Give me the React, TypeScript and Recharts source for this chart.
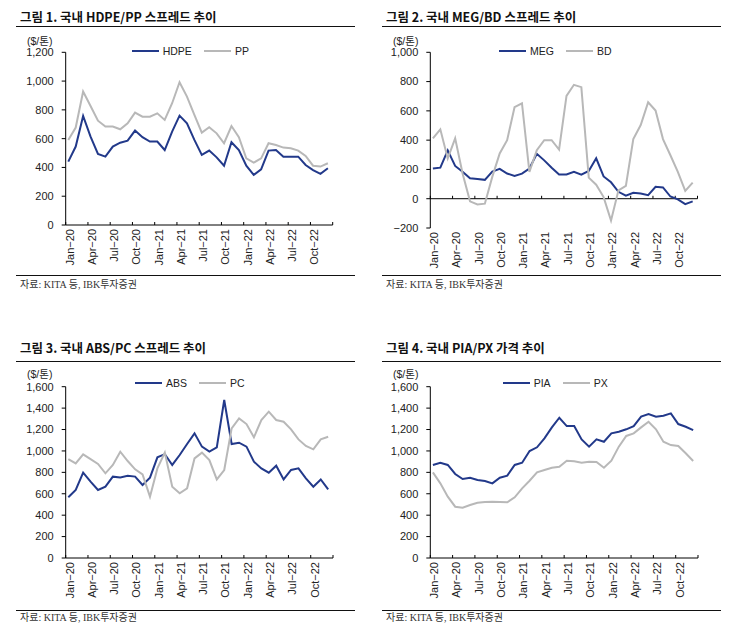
import { LineChart, Line, XAxis, YAxis, Legend, ReferenceLine } from 'recharts'

// monthly, Jan-20 .. Dec-22
const months = [
  'Jan-20', 'Feb-20', 'Mar-20', 'Apr-20', 'May-20', 'Jun-20', 'Jul-20', 'Aug-20', 'Sep-20', 'Oct-20', 'Nov-20', 'Dec-20',
  'Jan-21', 'Feb-21', 'Mar-21', 'Apr-21', 'May-21', 'Jun-21', 'Jul-21', 'Aug-21', 'Sep-21', 'Oct-21', 'Nov-21', 'Dec-21',
  'Jan-22', 'Feb-22', 'Mar-22', 'Apr-22', 'May-22', 'Jun-22', 'Jul-22', 'Aug-22', 'Sep-22', 'Oct-22', 'Nov-22', 'Dec-22',
]
const tickLabels = ['Jan-20', 'Apr-20', 'Jul-20', 'Oct-20', 'Jan-21', 'Apr-21', 'Jul-21', 'Oct-21', 'Jan-22', 'Apr-22', 'Jul-22', 'Oct-22']
const xTicks = [0, 3, 6, 9, 12, 15, 18, 21, 24, 27, 30, 33, 36]

const hdpe = [440, 545, 758, 614, 494, 475, 545, 572, 586, 656, 610, 580, 580, 521, 649, 760, 707, 591, 487, 517, 470, 412, 575, 521, 412, 348, 387, 517, 521, 475, 475, 475, 417, 382, 355, 394]
const pp = [591, 677, 927, 827, 725, 684, 684, 665, 707, 781, 753, 753, 776, 730, 846, 992, 892, 765, 642, 679, 637, 568, 688, 610, 463, 433, 463, 568, 556, 538, 533, 517, 480, 412, 406, 429]

const meg = [207, 212, 330, 224, 184, 140, 135, 129, 186, 204, 172, 156, 171, 206, 307, 262, 211, 165, 165, 184, 164, 190, 276, 152, 112, 47, 21, 40, 35, 24, 81, 77, 15, -4, -37, -18]
const bd = [412, 474, 275, 412, 172, -18, -39, -34, 149, 309, 400, 625, 652, 183, 332, 400, 400, 336, 702, 778, 762, 144, 96, 11, -149, 57, 87, 407, 503, 659, 602, 407, 297, 183, 53, 110]

const abs = [567, 635, 797, 713, 635, 666, 760, 753, 769, 760, 682, 750, 940, 970, 869, 962, 1065, 1164, 1040, 993, 1034, 1476, 1065, 1077, 1040, 900, 837, 797, 862, 734, 822, 837, 744, 666, 734, 641]
const pc = [924, 884, 968, 924, 878, 791, 869, 993, 906, 828, 781, 573, 837, 984, 666, 604, 651, 930, 984, 915, 734, 822, 1211, 1304, 1251, 1127, 1289, 1367, 1289, 1273, 1202, 1108, 1046, 1015, 1108, 1133]

const pia = [869, 890, 869, 785, 738, 750, 728, 719, 697, 750, 769, 869, 890, 999, 1034, 1118, 1220, 1310, 1232, 1232, 1108, 1040, 1108, 1086, 1164, 1180, 1202, 1232, 1320, 1345, 1320, 1329, 1351, 1251, 1226, 1195]
const px = [800, 697, 573, 479, 470, 495, 516, 523, 526, 523, 520, 567, 651, 722, 800, 822, 843, 853, 909, 903, 890, 900, 897, 843, 909, 1040, 1140, 1164, 1220, 1273, 1202, 1086, 1055, 1046, 978, 906]

const NAVY = '#22398a'
const GRAY = '#b8b8b8'
const SANS = '"Liberation Sans", Arial, "Noto Sans CJK KR", sans-serif'
const KR = '"Noto Sans CJK KR", "Liberation Sans", sans-serif'
const SERIF = '"Liberation Serif", "Noto Sans CJK KR", serif'

const dash = (s: string) => s.replace('-', '−')

function XTick(props: any) {
  const { x, y, payload, drawTick } = props
  const label = tickLabels[payload.value / 3] ?? ''
  return (
    <g transform={`translate(${x},${y})`}>
      {drawTick && <line x1={0} x2={0} y1={0} y2={-3} stroke="#000" />}
      <text transform="rotate(-90)" x={-4} y={4} dy="0.35em" textAnchor="end" fontSize={11} fill="#222" fontFamily={SANS}>
        {dash(label)}
      </text>
    </g>
  )
}

function LegendBox({ names }: { names: [string, string] }) {
  const colors = [NAVY, GRAY]
  return (
    <div style={{ display: 'flex', alignItems: 'center', fontFamily: SANS, fontSize: 10.5, color: '#222', lineHeight: '14px' }}>
      {names.map((n, i) => (
        <span key={n} style={{ display: 'flex', alignItems: 'center', marginRight: 12 }}>
          <span style={{ display: 'inline-block', width: 27, height: 2, background: colors[i], marginRight: 4 }} />
          {n}
        </span>
      ))}
    </div>
  )
}

type PanelProps = {
  left: number
  top: number
  title: string
  names: [string, string]
  a: number[]
  b: number[]
  domain: [number, number]
  ticks: number[]
  plot: { l: number; t: number; r: number; b: number }
  titleY: number
  ruleY: number
  unitY: number
  legend: { x: number; y: number }
  footY: number
  srcY: number
  zeroTick?: number
}

function Panel(p: PanelProps) {
  const data = months.map((m, i) => ({ month: m, x: i + 0.35, a: p.a[i], b: p.b[i] }))
  const zero = p.zeroTick !== undefined
  return (
    <div style={{ position: 'absolute', left: p.left, top: p.top, width: 366, height: 306 }}>
      <div style={{ position: 'absolute', left: 20, top: p.titleY - 9, fontFamily: KR, fontWeight: 700, fontSize: 12.5, lineHeight: '18px', color: '#111', whiteSpace: 'nowrap' }}>
        {p.title}
      </div>
      <div style={{ position: 'absolute', left: 16, width: 339, top: p.ruleY, borderTop: '1px solid #111' }} />
      <div style={{ position: 'absolute', left: 27, top: p.unitY - 7, fontFamily: SANS, fontSize: 10.5, lineHeight: '14px', color: '#222' }}>($/톤)</div>
      <div style={{ position: 'absolute', left: 0, top: 0 }}>
        <LineChart
          width={366}
          height={300}
          data={data}
          margin={{ top: p.plot.t, right: 366 - p.plot.r, bottom: 0, left: 0 }}
        >
          <XAxis
            type="number"
            dataKey="x"
            domain={[0, 36]}
            ticks={xTicks}
            interval={0}
            height={300 - p.plot.b}
            tickSize={0}
            tickMargin={0}
            tickLine={false}
            axisLine={zero ? false : { stroke: '#000' }}
            tick={(tp: any) => <XTick {...tp} drawTick={!zero} />}
          />
          <YAxis
            type="number"
            domain={p.domain}
            ticks={p.ticks}
            interval={0}
            width={p.plot.l}
            tickSize={4}
            tickMargin={8}
            axisLine={{ stroke: '#000' }}
            tickLine={{ stroke: '#000' }}
            tick={{ fontSize: 11, fill: '#222', fontFamily: SANS }}
            tickFormatter={(v: number) => v.toLocaleString('en-US').replace('-', '−')}
          />
          {zero && <ReferenceLine y={0} stroke="#000" strokeWidth={1} />}
          {zero &&
            xTicks.map((t) => (
              <ReferenceLine
                key={t}
                segment={[
                  { x: t, y: 0 },
                  { x: t, y: p.zeroTick as number },
                ]}
                stroke="#000"
              />
            ))}
          <Legend
            layout="horizontal"
            verticalAlign="middle"
            align="center"
            wrapperStyle={{ top: p.legend.y - 7, left: p.legend.x, width: 'auto' }}
            content={() => <LegendBox names={p.names} />}
          />
          <Line type="linear" dataKey="a" stroke={NAVY} strokeWidth={2} dot={false} isAnimationActive={false} />
          <Line type="linear" dataKey="b" stroke={GRAY} strokeWidth={2} dot={false} isAnimationActive={false} />
        </LineChart>
      </div>
      <div style={{ position: 'absolute', left: 16, width: 339, top: p.footY, borderTop: '1px solid #111' }} />
      <div style={{ position: 'absolute', left: 20, top: p.srcY - 7, fontFamily: SERIF, fontSize: 10, lineHeight: '14px', color: '#333', whiteSpace: 'nowrap' }}>
        자료: KITA 등, IBK투자증권
      </div>
    </div>
  )
}

export default function App() {
  return (
    <div style={{ position: 'relative', width: 732, height: 636, background: '#fff' }}>
      <style>{'body{margin:0}'}</style>
      <Panel
        left={0}
        top={0}
        title="그림 1. 국내 HDPE/PP 스프레드 추이"
        names={['HDPE', 'PP']}
        a={hdpe}
        b={pp}
        domain={[0, 1200]}
        ticks={[0, 200, 400, 600, 800, 1000, 1200]}
        plot={{ l: 65.7, t: 52.3, r: 332.7, b: 225 }}
        titleY={17}
        ruleY={26}
        unitY={41}
        legend={{ x: 131.7, y: 51 }}
        footY={275}
        srcY={285}
      />
      <Panel
        left={366}
        top={0}
        title="그림 2. 국내 MEG/BD 스프레드 추이"
        names={['MEG', 'BD']}
        a={meg}
        b={bd}
        domain={[-200, 1000]}
        ticks={[-200, 0, 200, 400, 600, 800, 1000]}
        plot={{ l: 64.3, t: 52.3, r: 331.5, b: 228 }}
        titleY={17}
        ruleY={26}
        unitY={41}
        legend={{ x: 133, y: 51 }}
        footY={275}
        srcY={285}
        zeroTick={20}
      />
      <Panel
        left={0}
        top={330}
        title="그림 3. 국내 ABS/PC 스프레드 추이"
        names={['ABS', 'PC']}
        a={abs}
        b={pc}
        domain={[0, 1600]}
        ticks={[0, 200, 400, 600, 800, 1000, 1200, 1400, 1600]}
        plot={{ l: 65.7, t: 56.7, r: 333, b: 228 }}
        titleY={18}
        ruleY={30.5}
        unitY={44}
        legend={{ x: 135, y: 53.3 }}
        footY={280}
        srcY={288}
      />
      <Panel
        left={366}
        top={330}
        title="그림 4. 국내 PIA/PX 가격 추이"
        names={['PIA', 'PX']}
        a={pia}
        b={px}
        domain={[0, 1600]}
        ticks={[0, 200, 400, 600, 800, 1000, 1200, 1400, 1600]}
        plot={{ l: 64.3, t: 56.7, r: 332, b: 228 }}
        titleY={18}
        ruleY={30.5}
        unitY={44}
        legend={{ x: 136.7, y: 53.3 }}
        footY={280}
        srcY={288}
      />
    </div>
  )
}
